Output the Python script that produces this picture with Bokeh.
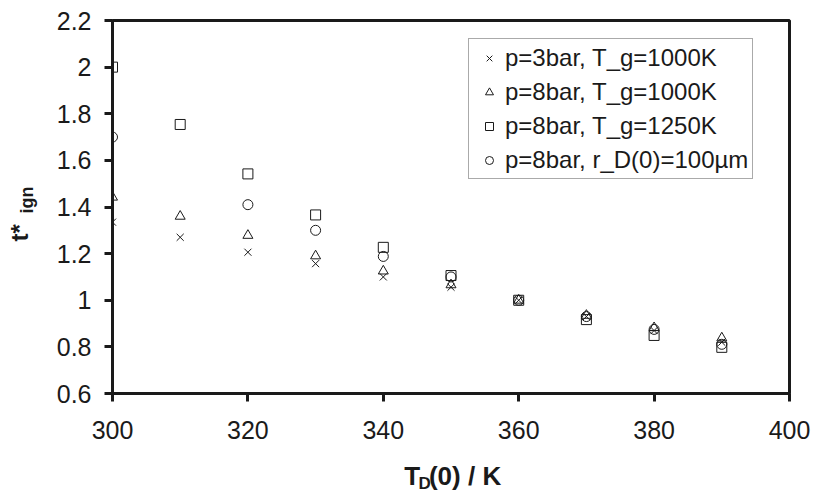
import math
from bokeh.plotting import figure
from bokeh.layouts import row, column
from bokeh.models import (Legend, LegendItem, FixedTicker,
                          CustomJSTickFormatter, Range1d)
from bokeh.core.properties import value
from bokeh.embed import file_html
from bokeh.resources import INLINE

# ---- data ----
T_all = [300, 310, 320, 330, 340, 350, 360, 370, 380, 390]
t_p3_1000 = [1.335, 1.27, 1.206, 1.157, 1.10, 1.056, 1.0, 0.93, 0.87, 0.82]
t_p8_1000 = [1.442, 1.36, 1.278, 1.19, 1.125, 1.066, 1.0, 0.935, 0.882, 0.838]
t_p8_1250 = [2.0, 1.754, 1.542, 1.366, 1.227, 1.106, 1.0, 0.917, 0.849, 0.798]
T_r = [300, 320, 330, 340, 350, 360, 370, 380, 390]
t_p8_r100 = [1.70, 1.41, 1.30, 1.188, 1.10, 1.0, 0.93, 0.875, 0.811]

labels = ["p=3bar, T_g=1000K", "p=8bar, T_g=1000K",
          "p=8bar, T_g=1250K", "p=8bar, r_D(0)=100\u00b5m"]
x_ticks = [300, 320, 340, 360, 380, 400]
y_ticks = [0.6, 0.8, 1.0, 1.2, 1.4, 1.6, 1.8, 2.0, 2.2]

FONT = "Liberation Sans"
INK = "#1a1a1a"

LEFT_W = 46          # strip holding the y-axis title
BOTTOM_H = 44        # strip holding the x-axis title
MAIN_W = 814 - LEFT_W
MAIN_H = 494 - BOTTOM_H

p = figure(width=MAIN_W, height=MAIN_H, output_backend="svg", toolbar_location=None,
           x_range=Range1d(300, 400), y_range=Range1d(0.6, 2.2),
           min_border_left=112 - LEFT_W, min_border_right=25,
           min_border_top=20, min_border_bottom=MAIN_H - 373 - 20)
p.background_fill_color = "white"
p.border_fill_color = "white"
p.xgrid.visible = False
p.ygrid.visible = False
p.outline_line_color = INK
p.outline_line_width = 3
p.outline_line_alpha = 1

for ax in (p.xaxis[0], p.yaxis[0]):
    ax.axis_line_width = 3
    ax.axis_line_color = INK
    ax.major_tick_line_width = 3
    ax.major_tick_line_color = INK
    ax.major_tick_out = 8
    ax.major_tick_in = 0
    ax.minor_tick_line_color = None
    ax.major_label_text_font = FONT
    ax.major_label_text_font_size = "25px"
    ax.major_label_text_color = INK

p.xaxis.ticker = FixedTicker(ticks=x_ticks)
p.yaxis.ticker = FixedTicker(ticks=y_ticks)
p.xaxis.formatter = CustomJSTickFormatter(code="return tick.toFixed(0);")
p.yaxis.formatter = CustomJSTickFormatter(code="return Number(tick.toFixed(1)).toString();")
p.xaxis.major_label_standoff = 19
p.yaxis.major_label_standoff = 13

kw = dict(line_color=INK, fill_color=None, line_width=1, size=10)
r1 = p.scatter(T_all, t_p3_1000, marker="x", **kw)
r2 = p.scatter(T_all, t_p8_1000, marker="triangle", **kw)
r3 = p.scatter(T_all, t_p8_1250, marker="square", **kw)
r4 = p.scatter(T_r, t_p8_r100, marker="circle", **kw)

legend = Legend(items=[LegendItem(label=l, renderers=[r]) for l, r in
                       zip(labels, [r1, r2, r3, r4])],
                location=(356, 214), orientation="vertical")
legend.label_text_font = FONT
legend.label_text_font_size = "24px"
legend.label_text_color = INK
legend.label_height = 29
legend.glyph_height = 20
legend.glyph_width = 32
legend.label_standoff = 0
legend.spacing = 5
legend.padding = 4
legend.margin = 0
legend.border_line_color = "#555555"
legend.border_line_width = 1
legend.background_fill_color = "white"
legend.background_fill_alpha = 1
p.add_layout(legend, "center")


def text_strip(w, h):
    f = figure(width=w, height=h, output_backend="svg", toolbar_location=None,
               x_range=Range1d(0, w), y_range=Range1d(0, h),
               x_axis_location=None, y_axis_location=None,
               min_border=0)
    f.xgrid.visible = False
    f.ygrid.visible = False
    f.outline_line_color = None
    f.background_fill_color = "white"
    f.border_fill_color = "white"
    return f


tkw = dict(text_font=value(FONT), text_font_style="bold", text_color=INK,
           text_baseline="alphabetic", text_align="left")

# x-axis title: T_D(0) / K
bx = text_strip(MAIN_W, BOTTOM_H)
bx.text(x=[331], y=[19], text=["T"], text_font_size="26px", **tkw)
bx.text(x=[347], y=[11], text=["D"], text_font_size="17px", **tkw)
bx.text(x=[359], y=[19], text=["(0) / K"], text_font_size="26px", **tkw)

# y-axis title: t*_ign (rotated)
ly = text_strip(LEFT_W, 494)
ly.text(x=[19], y=[494 - 241], text=["t*"], angle=math.pi / 2,
        text_font_size="24px", **tkw)
ly.text(x=[26], y=[494 - 213], text=["ign"], angle=math.pi / 2,
        text_font_size="18px", **tkw)

layout = row(ly, column(p, bx))
open("out.html", "w").write(file_html(layout, INLINE))
